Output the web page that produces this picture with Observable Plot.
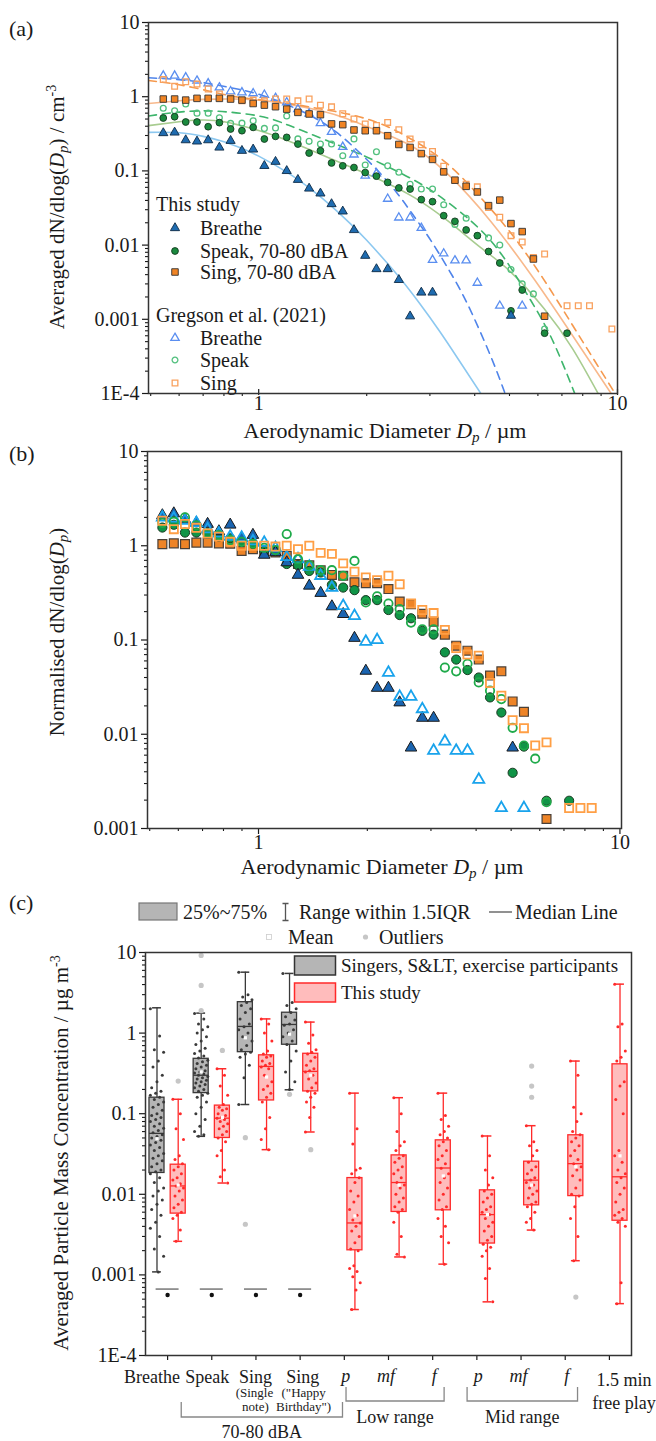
<!DOCTYPE html>
<html><head><meta charset="utf-8">
<script src="https://cdn.jsdelivr.net/npm/d3@7"></script>
<script src="https://cdn.jsdelivr.net/npm/@observablehq/plot@0.6"></script>
<style>
body{margin:0;background:#fff;}
#wrap{width:656px;}
#wrap svg{display:block;overflow:visible;}
</style></head><body><div id="wrap"></div>
<script>
const N = null;
// APS bin midpoints (µm)
const bins = [0.542,0.583,0.626,0.673,0.723,0.777,0.835,0.898,0.965,1.037,1.114,1.197,1.286,1.382,1.486,1.596,1.715,1.843,1.981,2.129,2.288,2.458,2.642,2.839,3.051,3.278,3.523,3.786,4.068,4.371,4.698,5.048,5.425,5.829,6.264,6.732,7.234,7.774,8.354,8.977,9.647];

// ---- Panel (a): averaged dN/dlog(Dp) / cm^-3
const aThisBreathe = [0.324,0.33,0.26,0.25,0.26,0.207,0.255,0.187,0.195,0.117,0.133,0.10,0.076,0.058,0.0498,0.0358,0.0285,0.016,0.0072,0.00476,0.00476,0.0034,0.0011,0.0023,0.0023,N,N,N,N,N,N,0.00112];
const aThisSpeak = [0.516,0.537,0.456,0.456,0.394,0.447,0.367,0.348,0.386,0.269,0.292,0.283,0.23,0.174,0.187,0.128,0.117,0.111,0.095,0.085,0.070,0.0589,0.057,0.041,0.0385,0.0249,0.0209,0.016,0.0134,0.0082,0.00574,0.0013,0.00248,N,0.00065,N,0.00065];
const aThisSing = [0.93,0.93,0.90,0.95,0.95,0.95,0.93,0.90,0.81,0.77,0.733,0.68,0.615,0.585,0.573,0.43,0.42,0.356,0.348,0.348,0.298,0.227,0.207,0.171,0.143,0.097,0.075,0.062,0.052,0.034,0.0404,0.0195,0.0152,0.0065,0.0011];
const aGregBreathe = [1.92,1.92,1.82,1.64,1.51,1.33,1.18,1.14,1.11,1.06,0.96,0.84,0.68,0.59,0.44,0.335,0.21,0.166,0.086,0.0925,0.042,0.0235,0.0235,0.017,0.0063,0.0077,0.0062,0.0062,0.0031,N,0.00152,N,0.00152];
const aGregSpeak = [0.70,0.648,0.80,0.60,0.60,0.52,0.437,0.44,0.475,0.374,0.38,0.55,0.27,0.25,0.23,0.23,0.16,0.27,0.12,0.181,0.117,0.096,0.066,0.057,0.057,0.035,0.019,0.023,0.0134,0.0125,0.010,0.0047,0.003,0.0022,0.00074];
const aGregSing = [1.70,1.38,1.59,1.48,1.27,1.09,0.96,0.88,0.90,0.88,0.93,0.93,0.88,0.93,0.77,0.73,0.59,0.50,0.43,0.41,0.45,0.36,0.27,0.225,0.183,0.116,0.074,0.066,0.061,0.032,0.0237,0.0134,0.011,0.0068,0.0076,N,0.00152,0.00152,0.00152,N,0.00074];

// fitted curves
const fitThisBreatheX = [0.493,0.6,0.7,0.8,0.9,1.0,1.2,1.4,1.6,1.8,2.0,2.4,2.8,3.2,3.6,4.16];
const fitThisBreatheY = [0.331,0.327,0.292,0.247,0.20,0.158,0.0957,0.0564,0.0331,0.0195,0.0116,0.0043,0.00167,0.00068,0.00029,0.0001];
const fitThisSpeakX = [0.493,0.6,0.683,0.8,1.0,1.153,1.4,1.77,2.19,2.71,3.36,4.15,5.0,6.24,7.5,8.83];
const fitThisSpeakY = [0.407,0.46,0.485,0.46,0.35,0.277,0.19,0.117,0.075,0.044,0.0213,0.0093,0.0045,0.0014,0.0004,0.0001];
const fitThisSingX = [0.493,0.6,0.7,0.85,1.0,1.2,1.5,1.77,2.2,2.71,3.36,4.43,5.9,7.5,9.6];
const fitThisSingY = [0.81,0.88,0.92,0.93,0.90,0.80,0.64,0.50,0.33,0.207,0.091,0.021,0.0033,0.0006,0.0001];
const fitGregBreatheX = [0.493,0.6,0.7,0.85,1.0,1.2,1.43,1.65,1.88,2.15,2.44,2.7,3.02,3.4,3.82,4.43,4.86];
const fitGregBreatheY = [1.8,1.7,1.55,1.3,1.08,0.78,0.52,0.33,0.19,0.1,0.049,0.025,0.0115,0.0045,0.0016,0.00032,0.0001];
const fitGregSpeakX = [0.493,0.6,0.75,1.0,1.2,1.43,1.88,2.2,2.71,3.36,4.43,5.5,6.5,7.6];
const fitGregSpeakY = [0.55,0.62,0.64,0.55,0.42,0.30,0.175,0.125,0.075,0.038,0.0115,0.0025,0.0006,0.0001];
const fitGregSingX = [0.493,0.6,0.75,0.9,1.153,1.45,1.77,2.19,2.71,3.36,4.15,5.2,6.5,8.0,9.85];
const fitGregSingY = [1.65,1.45,1.15,0.97,0.84,0.7,0.585,0.43,0.255,0.124,0.044,0.012,0.0025,0.0005,0.0001];

// ---- Panel (b): normalised dN/dlog(Dp)
const bThisBreathe = [2.1,2.2,1.9,1.75,1.7,1.42,1.67,1.2,1.3,0.8,0.85,0.665,0.49,0.376,0.315,0.227,0.188,0.105,0.047,0.031,0.031,0.0217,0.0072,0.0149,0.0149,N,N,N,N,N,N,0.0072];
const bThisSpeak = [1.56,1.67,1.38,1.38,1.35,1.25,1.2,1.1,1.05,0.885,0.88,0.64,0.62,0.54,0.52,0.385,0.36,0.338,0.265,0.265,0.208,0.184,0.17,0.125,0.114,0.074,0.062,0.048,0.040,0.0246,0.017,0.0039,0.0074,N,0.00197,N,0.00197];
const bThisSing = [1.04,1.06,1.04,1.08,1.08,1.06,1.05,0.88,0.92,0.85,0.85,0.78,0.64,0.62,0.55,0.49,0.48,0.41,0.40,0.40,0.347,0.256,0.24,0.19,0.156,0.114,0.087,0.077,0.062,0.042,0.0465,0.0223,0.0173,N,0.00126];
const bGregBreathe = [2.0,1.95,1.85,1.75,1.5,1.35,1.25,1.22,1.12,1.08,0.95,0.76,0.72,0.6,0.48,0.36,0.23,0.18,0.096,0.1,0.045,0.025,0.025,0.0185,0.0067,0.0084,0.0067,0.0067,0.0033,N,0.00165,N,0.00165];
const bGregSpeak = [1.75,1.8,2.0,1.65,1.35,1.3,1.15,1.1,1.05,0.95,0.9,1.33,0.72,0.62,0.55,0.55,0.48,0.69,0.25,0.29,0.244,0.213,0.153,0.13,0.13,0.051,0.0465,0.056,0.0355,0.029,0.0236,0.0117,0.0076,0.0055,0.0019];
const bGregSing = [1.84,1.5,1.7,1.55,1.35,1.25,1.1,1.0,1.0,1.0,0.98,1.0,0.92,1.0,0.84,0.82,0.65,0.53,0.46,0.43,0.48,0.39,0.244,0.208,0.193,0.128,0.082,0.07,0.068,0.035,0.0256,0.0141,0.0116,0.0076,0.0082,N,0.00165,0.00165,0.00165];

// ---- Panel (c): averaged particle mass concentration / µg m^-3
const cCategories = ["Breathe","Speak","Sing (Single note)","Sing (\"Happy Birthday\")","p","mf","f","p","mf","f","1.5 min free play"];
const grayQ1 = [0.0184,0.18,0.58,0.717];
const grayMed = [0.057,0.30,1.21,1.28];
const grayQ3 = [0.158,0.48,2.42,1.79];
const grayLo = [0.00109,0.0524,0.13,0.198];
const grayHi = [2.06,1.77,5.7,5.5];
const grayMean = [0.049,0.33,0.875,0.97];
const grayOutliers = [[],[9.2,3.9,1.9],[0.0504,0.00425],[0.174]];
const grayPoints = [
  [2.0,0.92,0.62,0.58,0.45,0.38,0.3,0.25,0.21,0.19,0.18,0.17,0.16,0.15,0.14,0.13,0.12,0.11,0.1,0.095,0.09,0.085,0.08,0.075,0.07,0.066,0.062,0.058,0.055,0.052,0.05,0.047,0.044,0.041,0.038,0.035,0.032,0.03,0.028,0.026,0.024,0.022,0.02,0.019,0.018,0.016,0.014,0.012,0.011,0.0095,0.0085,0.0075,0.0065,0.0055,0.0045,0.0038,0.003,0.0021,0.0017,0.00109],
  [1.75,1.5,1.3,1.2,1.1,1.0,0.9,0.8,0.72,0.65,0.6,0.56,0.52,0.49,0.46,0.44,0.42,0.4,0.38,0.36,0.34,0.33,0.32,0.31,0.3,0.29,0.28,0.27,0.26,0.25,0.24,0.23,0.22,0.21,0.2,0.19,0.18,0.17,0.16,0.14,0.12,0.1,0.085,0.07,0.06,0.055,0.0524],
  [5.7,3.0,2.8,2.6,2.4,2.2,2.0,1.8,1.5,1.3,1.2,1.1,1.0,0.9,0.8,0.7,0.62,0.58,0.55,0.5,0.4,0.28,0.13],
  [5.5,2.4,2.2,2.0,1.8,1.6,1.45,1.3,1.25,1.1,1.0,0.9,0.8,0.72,0.6,0.45,0.33,0.25,0.2]
];
const redQ1 = [0.00576,0.05,0.146,0.189,0.00202,0.00604,0.00633,0.00245,0.0073,0.0095,0.0047];
const redMed = [0.0127,0.088,0.386,0.335,0.00441,0.014,0.0212,0.0056,0.015,0.024,0.0165];
const redQ3 = [0.0233,0.126,0.53,0.554,0.0159,0.0304,0.0467,0.0112,0.0254,0.054,0.41];
const redLo = [0.00261,0.0138,0.0358,0.0593,0.000372,0.00167,0.00136,0.000463,0.0036,0.0015,0.00044];
const redHi = [0.151,0.361,1.5,1.37,0.18,0.158,0.18,0.0529,0.071,0.45,4.05];
const redMean = [0.013,0.09,0.285,0.3,0.0054,0.013,0.0169,0.0056,0.013,0.022,0.03];
const redOutliers = [[0.254],[0.61],[],[0.0358],[],[],[],[],[0.39,0.22,0.16],[0.00053],[]];
const redPoints = [
  [0.151,0.1,0.065,0.048,0.03,0.027,0.024,0.022,0.02,0.018,0.016,0.015,0.0135,0.0127,0.012,0.011,0.0095,0.0085,0.0075,0.0068,0.006,0.0055,0.005,0.0036,0.00261],
  [0.361,0.3,0.22,0.17,0.13,0.12,0.115,0.11,0.1,0.095,0.09,0.088,0.085,0.08,0.075,0.07,0.065,0.06,0.055,0.05,0.045,0.035,0.03,0.02,0.0165,0.0138],
  [1.5,1.3,1.0,0.8,0.6,0.55,0.52,0.5,0.45,0.42,0.4,0.38,0.36,0.3,0.25,0.22,0.2,0.18,0.16,0.14,0.09,0.065,0.048,0.0358],
  [1.37,0.95,0.75,0.62,0.58,0.55,0.5,0.45,0.4,0.36,0.34,0.33,0.3,0.27,0.24,0.21,0.19,0.18,0.16,0.14,0.12,0.09,0.0593],
  [0.18,0.065,0.042,0.021,0.02,0.018,0.016,0.014,0.011,0.0095,0.008,0.0065,0.0055,0.0048,0.0044,0.004,0.0035,0.003,0.0025,0.0021,0.002,0.0013,0.0012,0.0011,0.00095,0.0008,0.00065,0.000372],
  [0.158,0.1,0.06,0.045,0.04,0.035,0.03,0.028,0.025,0.022,0.02,0.018,0.016,0.014,0.013,0.012,0.01,0.009,0.008,0.007,0.0065,0.006,0.0045,0.003,0.0018,0.00167],
  [0.18,0.095,0.085,0.07,0.06,0.055,0.05,0.045,0.04,0.035,0.03,0.027,0.024,0.021,0.018,0.016,0.014,0.012,0.01,0.0085,0.007,0.0065,0.005,0.004,0.003,0.0025,0.00136],
  [0.0529,0.03,0.02,0.016,0.013,0.011,0.01,0.009,0.008,0.007,0.0065,0.006,0.0056,0.005,0.0045,0.004,0.0035,0.003,0.0027,0.0024,0.0022,0.002,0.0017,0.0012,0.0009,0.000463],
  [0.071,0.045,0.04,0.035,0.03,0.025,0.022,0.02,0.018,0.016,0.015,0.014,0.013,0.012,0.011,0.01,0.009,0.008,0.0075,0.007,0.006,0.005,0.0045,0.0036],
  [0.45,0.3,0.12,0.1,0.08,0.06,0.055,0.05,0.045,0.04,0.035,0.03,0.027,0.024,0.022,0.02,0.017,0.015,0.012,0.01,0.0095,0.007,0.005,0.003,0.0015],
  [4.05,1.3,1.2,0.6,0.5,0.45,0.25,0.22,0.15,0.1,0.035,0.03,0.025,0.02,0.018,0.016,0.014,0.012,0.01,0.008,0.0065,0.006,0.0055,0.005,0.0045,0.004,0.0008,0.00044]
];
const sigLineY = 0.000667, sigStarY = 0.000562;

// ---------- helpers
const FONT = "'Liberation Serif', 'Times New Roman', serif";
const W = 656;
const majorY = [1e-4,0.001,0.01,0.1,1,10];
const minorY = [];
[1e-4,1e-3,1e-2,1e-1,1].forEach(d => { for (let k = 2; k <= 9; k++) minorY.push(+(k*d).toPrecision(2)); });
const majorX = [1,10];
const minorX = [0.5,0.6,0.7,0.8,0.9,2,3,4,5,6,7,8,9];
const fmtY = v => v === 1e-4 ? "1E-4" : String(v);
const series = vals => vals.map((v,i) => ({x: bins[i], y: v})).filter(d => d.y != null);
const curve = (xs, ys) => xs.map((x,i) => ({x, y: ys[i]}));

function txt(svg, x, y, html, o = {}) {
  const t = d3.select(svg).append("text")
    .attr("transform", `translate(${x},${y})` + (o.rotate ? ` rotate(${o.rotate})` : ""))
    .attr("text-anchor", o.anchor || "start")
    .attr("font-family", FONT)
    .attr("font-size", o.size || 20)
    .attr("fill", o.color || "#1a1a1a")
    .html(html);
  if (o.italic) t.attr("font-style", "italic");
  return t;
}
function sym(svg, x, y, type, r, fill, stroke, sw) {
  d3.select(svg).append("path")
    .attr("transform", `translate(${x},${y})`)
    .attr("d", d3.symbol().type(type).size(Math.PI * r * r)())
    .attr("fill", fill).attr("stroke", stroke).attr("stroke-width", sw);
}
const DP = `<tspan font-style="italic">D</tspan><tspan font-style="italic" font-size="15" dy="4">p</tspan>`;

const logAxes = () => [
  Plot.axisY({ticks: minorY, tickSize: 3, tickFormat: () => "", label: null, strokeWidth: 1.1}),
  Plot.axisY({ticks: majorY, tickSize: 6, tickPadding: 3, tickFormat: fmtY, label: null, strokeWidth: 1.2, fontSize: 20}),
  Plot.axisX({ticks: minorX, tickSize: 3, tickFormat: () => "", label: null, strokeWidth: 1.1}),
  Plot.axisX({ticks: majorX, tickSize: 6, tickPadding: 0, dy: -4, tickFormat: d => String(d), label: null, strokeWidth: 1.2, fontSize: 20})
];
const style = {fontFamily: FONT, fontSize: "20px", color: "#1a1a1a", overflow: "visible", background: "transparent"};

// ---------- colours
const cA = {
  tb: "#1f6cb0", ts: "#1a8a3e", tg: "#f08424",
  gb: "#5a8ef0", gs: "#52c07e", gg: "#f9a15e",
  fb: "#8cc8f0", fs: "#a8cc90", fg: "#f8b98c",
  db: "#4f84ea", ds: "#3eb56c", dg: "#f5994e"
};
const cB = {tb: "#1a64b0", ts: "#109447", tg: "#ee8427", gb: "#19a3ec", gs: "#1faa4a", gg: "#ff9f45"};

const wrap = document.getElementById("wrap");

// ================= Panel (a)
const plotA = Plot.plot({
  width: W, height: 444, marginTop: 22, marginBottom: 51, marginLeft: 148, marginRight: 39,
  style,
  x: {type: "log", domain: [0.493, 10]},
  y: {type: "log", domain: [1e-4, 10]},
  marks: [
    ...logAxes(),
    Plot.line(curve(fitThisBreatheX, fitThisBreatheY), {x: "x", y: "y", stroke: cA.fb, strokeWidth: 1.6, curve: "natural", clip: true}),
    Plot.line(curve(fitThisSpeakX, fitThisSpeakY), {x: "x", y: "y", stroke: cA.fs, strokeWidth: 1.6, curve: "natural", clip: true}),
    Plot.line(curve(fitThisSingX, fitThisSingY), {x: "x", y: "y", stroke: cA.fg, strokeWidth: 1.6, curve: "natural", clip: true}),
    Plot.line(curve(fitGregBreatheX, fitGregBreatheY), {x: "x", y: "y", stroke: cA.db, strokeWidth: 1.6, strokeDasharray: "8,6", curve: "natural", clip: true}),
    Plot.line(curve(fitGregSpeakX, fitGregSpeakY), {x: "x", y: "y", stroke: cA.ds, strokeWidth: 1.6, strokeDasharray: "8,6", curve: "natural", clip: true}),
    Plot.line(curve(fitGregSingX, fitGregSingY), {x: "x", y: "y", stroke: cA.dg, strokeWidth: 1.6, strokeDasharray: "8,6", curve: "natural", clip: true}),
    Plot.dot(series(aGregBreathe), {x: "x", y: "y", symbol: "triangle", r: 3.1, fill: "none", stroke: cA.gb, strokeWidth: 1.3}),
    Plot.dot(series(aGregSpeak), {x: "x", y: "y", symbol: "circle", r: 2.9, fill: "none", stroke: cA.gs, strokeWidth: 1.3}),
    Plot.dot(series(aGregSing), {x: "x", y: "y", symbol: "square", r: 3.2, fill: "none", stroke: cA.gg, strokeWidth: 1.3}),
    Plot.dot(series(aThisSing), {x: "x", y: "y", symbol: "square", r: 3.7, fill: cA.tg, stroke: "#333", strokeWidth: 0.9}),
    Plot.dot(series(aThisSpeak), {x: "x", y: "y", symbol: "circle", r: 3.4, fill: cA.ts, stroke: "#153a20", strokeWidth: 0.9}),
    Plot.dot(series(aThisBreathe), {x: "x", y: "y", symbol: "triangle", r: 3.4, fill: cA.tb, stroke: "#0d2a45", strokeWidth: 0.9}),
    Plot.frame({stroke: "#333", strokeWidth: 1.5})
  ]
});
wrap.appendChild(plotA);
txt(plotA, 9, 36, "(a)", {size: 22});
txt(plotA, 64, 207, `Averaged dN/dlog(${DP}<tspan dy="-4">) / cm</tspan><tspan font-size="14" dy="-8">-3</tspan>`, {rotate: -90, anchor: "middle", size: 21});
txt(plotA, 385, 438, `Aerodynamic Diameter ${DP}<tspan dy="-4"> / µm</tspan>`, {anchor: "middle", size: 22});
txt(plotA, 156, 211, "This study", {size: 20});
[[228, d3.symbolTriangle, 3.4, cA.tb, "#0d2a45", 0.9, "Breathe"],
 [251, d3.symbolCircle, 3.4, cA.ts, "#153a20", 0.9, "Speak, 70-80 dBA"],
 [272, d3.symbolSquare, 3.7, cA.tg, "#333", 0.9, "Sing, 70-80 dBA"]].forEach(([y, t, r, f, s, w, lab]) => {
  sym(plotA, 175, y, t, r, f, s, w); txt(plotA, 200, y + 7, lab, {size: 20});
});
txt(plotA, 156, 322, "Gregson et al. (2021)", {size: 20});
[[338, d3.symbolTriangle, 3.1, cA.gb, "Breathe"],
 [360, d3.symbolCircle, 2.9, cA.gs, "Speak"],
 [383, d3.symbolSquare, 3.2, cA.gg, "Sing"]].forEach(([y, t, r, s, lab]) => {
  sym(plotA, 175, y, t, r, "none", s, 1.3); txt(plotA, 200, y + 7, lab, {size: 20});
});

// ================= Panel (b)
const plotB = Plot.plot({
  width: W, height: 441, marginTop: 7, marginBottom: 57, marginLeft: 147, marginRight: 35,
  style,
  x: {type: "log", domain: [0.493, 10.1]},
  y: {type: "log", domain: [1e-3, 10]},
  marks: [
    Plot.axisY({ticks: minorY.filter(v => v > 1e-3), tickSize: 3, tickFormat: () => "", label: null, strokeWidth: 1.1}),
    Plot.axisY({ticks: [0.001,0.01,0.1,1,10], tickSize: 6, tickPadding: 3, tickFormat: fmtY, label: null, strokeWidth: 1.2, fontSize: 20}),
    Plot.axisX({ticks: minorX, tickSize: 3, tickFormat: () => "", label: null, strokeWidth: 1.1}),
    Plot.axisX({ticks: majorX, tickSize: 6, tickPadding: 0, tickFormat: d => String(d), label: null, strokeWidth: 1.2, fontSize: 20}),
    Plot.dot(series(bThisSing), {x: "x", y: "y", symbol: "square", r: 5, fill: cB.tg, stroke: "#4a4038", strokeWidth: 1.2}),
    Plot.dot(series(bThisSpeak), {x: "x", y: "y", symbol: "circle", r: 4.6, fill: cB.ts, stroke: "#1a3a22", strokeWidth: 1}),
    Plot.dot(series(bThisBreathe), {x: "x", y: "y", symbol: "triangle", r: 4.3, fill: cB.tb, stroke: "#1a1a1a", strokeWidth: 1}),
    Plot.dot(series(bGregBreathe), {x: "x", y: "y", symbol: "triangle", r: 4.1, fill: "none", stroke: cB.gb, strokeWidth: 1.8}),
    Plot.dot(series(bGregSpeak), {x: "x", y: "y", symbol: "circle", r: 4.2, fill: "none", stroke: cB.gs, strokeWidth: 1.8}),
    Plot.dot(series(bGregSing), {x: "x", y: "y", symbol: "square", r: 4.6, fill: "none", stroke: cB.gg, strokeWidth: 1.8}),
    Plot.frame({stroke: "#333", strokeWidth: 1.5})
  ]
});
wrap.appendChild(plotB);
txt(plotB, 9, 17, "(b)", {size: 22});
txt(plotB, 64, 188, `Normalised dN/dlog(${DP}<tspan dy="-4">)</tspan>`, {rotate: -90, anchor: "middle", size: 21});
txt(plotB, 382, 430, `Aerodynamic Diameter ${DP}<tspan dy="-4"> / µm</tspan>`, {anchor: "middle", size: 22});

// ================= Panel (c)
const OFF = 0.24, HW = 0.17, CAP = 0.1;
const boxes = [];
grayQ1.forEach((q, i) => boxes.push({pos: i + 1 - OFF, q1: q, med: grayMed[i], q3: grayQ3[i], lo: grayLo[i], hi: grayHi[i], mean: grayMean[i], kind: "g"}));
redQ1.forEach((q, i) => boxes.push({pos: i + 1 + OFF, q1: q, med: redMed[i], q3: redQ3[i], lo: redLo[i], hi: redHi[i], mean: redMean[i], kind: "r"}));
const jit = (i, w) => ((((i * 7) % 11) / 10) - 0.5) * w;
const pts = [];
grayPoints.forEach((arr, g) => arr.forEach((v, i) => pts.push({x: g + 1 - OFF + jit(i, 0.3), y: v, kind: "g"})));
redPoints.forEach((arr, g) => arr.forEach((v, i) => pts.push({x: g + 1 + OFF + jit(i, 0.24), y: v, kind: "r"})));
const outs = [];
grayOutliers.forEach((arr, g) => arr.forEach(v => outs.push({x: g + 1 - OFF, y: v})));
redOutliers.forEach((arr, g) => arr.forEach(v => outs.push({x: g + 1 + OFF, y: v})));
const sig = [1, 2, 3, 4].map(p => ({p}));
const GS = "#3a3a3a", RS = "#ff2a2a";
const col = d => d.kind === "g" ? GS : RS;

const plotC = Plot.plot({
  width: W, height: 556, marginTop: 67, marginBottom: 86, marginLeft: 145, marginRight: 25,
  style,
  x: {domain: [0.5, 11.5]},
  y: {type: "log", domain: [1e-4, 10]},
  marks: [
    Plot.axisY({ticks: minorY, tickSize: 3, tickFormat: () => "", label: null, strokeWidth: 1.1}),
    Plot.axisY({ticks: majorY, tickSize: 6, tickPadding: 3, tickFormat: fmtY, label: null, strokeWidth: 1.2, fontSize: 20}),
    Plot.axisX({ticks: d3.range(1, 12), tickSize: 5, tickFormat: () => "", label: null, strokeWidth: 1.2}),
    Plot.ruleX(boxes, {x: "pos", y1: "lo", y2: "hi", stroke: col, strokeWidth: 1.3}),
    Plot.ruleY(boxes, {y: "hi", x1: d => d.pos - CAP, x2: d => d.pos + CAP, stroke: col, strokeWidth: 1.5}),
    Plot.ruleY(boxes, {y: "lo", x1: d => d.pos - CAP, x2: d => d.pos + CAP, stroke: col, strokeWidth: 1.5}),
    Plot.rect(boxes, {x1: d => d.pos - HW, x2: d => d.pos + HW, y1: "q1", y2: "q3",
      fill: d => d.kind === "g" ? "#b5b5b5" : "#ffbcbc", stroke: col, strokeWidth: 1.3}),
    Plot.ruleY(boxes, {y: "med", x1: d => d.pos - HW, x2: d => d.pos + HW, stroke: col, strokeWidth: 1.3}),
    Plot.dot(outs, {x: "x", y: "y", r: 2.6, fill: "#c6c6c6"}),
    Plot.dot(pts, {x: "x", y: "y", r: 1.5, fill: col}),
    Plot.dot(boxes, {x: "pos", y: "mean", symbol: "square", r: 1.8, fill: "#fff"}),
    Plot.ruleY(sig, {y: sigLineY, x1: d => d.p - 0.26, x2: d => d.p + 0.26, stroke: "#777", strokeWidth: 1.5}),
    Plot.dot(sig, {x: "p", y: sigStarY, r: 2.2, fill: "#111"}),
    Plot.frame({stroke: "#333", strokeWidth: 1.5})
  ]
});
wrap.appendChild(plotC);
const cx = d3.scaleLinear([0.5, 11.5], [145, 631]);
txt(plotC, 9, 25, "(c)", {size: 22});
txt(plotC, 68, 268, `Averaged Particle Mass Concentration / µg m<tspan font-size="14" dy="-8">-3</tspan>`, {rotate: -90, anchor: "middle", size: 21});
// top legend
const svgC = d3.select(plotC);
svgC.append("rect").attr("x", 139).attr("y", 18).attr("width", 38).attr("height", 17).attr("fill", "#b5b5b5").attr("stroke", "#777").attr("stroke-width", 1.2);
txt(plotC, 183, 34, "25%~75%", {size: 20});
svgC.append("path").attr("d", "M282.5,18.5H288.5M285.5,18.5V35.5M282.5,35.5H288.5").attr("stroke", "#555").attr("stroke-width", 1.3).attr("fill", "none");
txt(plotC, 299, 34, "Range within 1.5IQR", {size: 20});
svgC.append("line").attr("x1", 489).attr("x2", 512).attr("y1", 27).attr("y2", 27).attr("stroke", "#555").attr("stroke-width", 1.3);
txt(plotC, 515, 34, "Median Line", {size: 20});
svgC.append("rect").attr("x", 266.5).attr("y", 49.5).attr("width", 5).attr("height", 5).attr("fill", "#fff").attr("stroke", "#ccc").attr("stroke-width", 0.8);
txt(plotC, 288, 59, "Mean", {size: 20});
svgC.append("circle").attr("cx", 365.5).attr("cy", 52).attr("r", 2.6).attr("fill", "#c6c6c6");
txt(plotC, 379, 59, "Outliers", {size: 20});
// inner legend
svgC.append("rect").attr("x", 294.5).attr("y", 71).attr("width", 41).attr("height", 19).attr("fill", "#b5b5b5").attr("stroke", "#333").attr("stroke-width", 1.5);
txt(plotC, 341, 87, "Singers, S&amp;LT, exercise participants", {size: 19});
svgC.append("rect").attr("x", 294.5).attr("y", 98).attr("width", 41).attr("height", 19).attr("fill", "#ffbcbc").attr("stroke", RS).attr("stroke-width", 1.5);
txt(plotC, 341, 114, "This study", {size: 19});
// category labels
txt(plotC, cx(1) - 15, 498, "Breathe", {anchor: "middle", size: 18});
txt(plotC, cx(2) - 4, 498, "Speak", {anchor: "middle", size: 18});
txt(plotC, cx(3), 498, "Sing", {anchor: "middle", size: 18});
txt(plotC, cx(3) - 1, 512, "(Single", {anchor: "middle", size: 13});
txt(plotC, cx(3), 526, "note)", {anchor: "middle", size: 13});
txt(plotC, cx(4) + 3, 498, "Sing", {anchor: "middle", size: 18});
txt(plotC, cx(4) + 4, 512, "(\"Happy", {anchor: "middle", size: 13});
txt(plotC, cx(4) + 4, 526, "Birthday\")", {anchor: "middle", size: 13});
[5, 6, 7, 8, 9, 10].forEach(i => txt(plotC, cx(i) + (cCategories[i - 1] === "mf" ? -2 : 2), 497, cCategories[i - 1], {anchor: "middle", size: 18, italic: true}));
txt(plotC, cx(11) + 15, 501, "1.5 min", {anchor: "middle", size: 18});
txt(plotC, cx(11) + 15, 524, "free play", {anchor: "middle", size: 18});
// brackets
const br = (a, b, y0, y1, lab, ly) => {
  svgC.append("path").attr("d", `M${cx(a)},${y0}V${y1}H${cx(b)}V${y0}`).attr("fill", "none").attr("stroke", "#888").attr("stroke-width", 1.3);
  txt(plotC, (cx(a) + cx(b)) / 2, ly, lab, {anchor: "middle", size: 18});
};
br(1.32, 4.97, 517, 532, "70-80 dBA", 553);
br(5.05, 7.27, 502, 516, "Low range", 538);
br(7.79, 10.29, 502, 516, "Mid range", 538);
</script></body></html>
